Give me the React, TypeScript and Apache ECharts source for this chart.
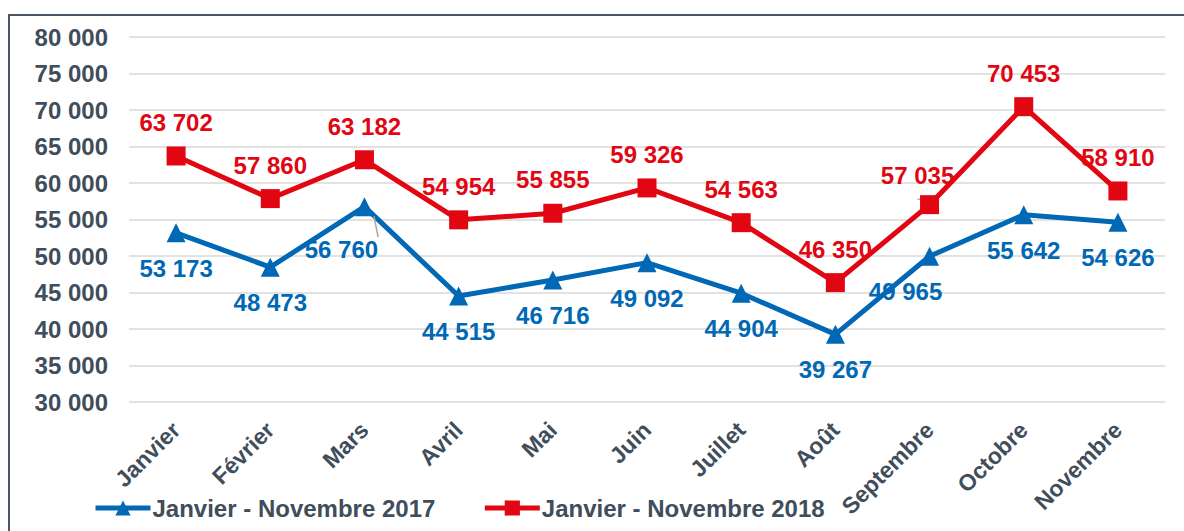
import React, { useEffect, useRef } from "react";
import * as echarts from "echarts";

const months = ["Janvier", "Février", "Mars", "Avril", "Mai", "Juin", "Juillet", "Août", "Septembre", "Octobre", "Novembre"];
const values2017 = [53173, 48473, 56760, 44515, 46716, 49092, 44904, 39267, 49965, 55642, 54626];
const values2018 = [63702, 57860, 63182, 54954, 55855, 59326, 54563, 46350, 57035, 70453, 58910];
const seriesNames = ["Janvier - Novembre 2017", "Janvier - Novembre 2018"];
const yMin = 30000;
const yMax = 80000;
const yStep = 5000;

// label displacement (style only) for a few crowded labels
const moved2017: Record<number, [number, number]> = { 2: [-23, 7], 8: [-24, 0] };
const moved2018: Record<number, [number, number]> = { 8: [-12, 4] };
const guided2017 = [2];
const guided2018 = [8];

const BLUE = "#0068B4";
const RED = "#E20613";
const TEXT = "#404D5B";
const FONT = "'Liberation Sans', Arial, sans-serif";

const fmt = (v: number) => String(v).replace(/\B(?=(\d{3})+(?!\d))/g, " ");

function buildData(values: number[], moved: Record<number, [number, number]>, guided: number[]) {
  return values.map((v, i) =>
    moved[i]
      ? {
          value: v,
          label: { offset: moved[i] },
          labelLine: { show: guided.includes(i), lineStyle: { color: "#A6A6A6", width: 1.5 } },
        }
      : v
  );
}

export default function App() {
  const ref = useRef<HTMLDivElement>(null);
  useEffect(() => {
    if (!ref.current) return;
    const chart = echarts.init(ref.current, undefined, { renderer: "svg" });
    chart.setOption({
      animation: false,
      backgroundColor: "#ffffff",
      textStyle: { fontFamily: FONT },
      graphic: [
        {
          type: "rect",
          shape: { x: 9, y: 15, width: 1300, height: 600 },
          style: { fill: "none", stroke: "#4A5563", lineWidth: 2 },
          silent: true,
          z: -1,
        },
      ],
      grid: { left: 129, right: 19, top: 37, bottom: 129, containLabel: false },
      legend: {
        left: 88,
        top: 491,
        itemWidth: 55,
        itemHeight: 19,
        itemGap: 47,
        lineStyle: { width: 5 },
        textStyle: { fontSize: 24, fontWeight: "bold", color: TEXT, fontFamily: FONT, padding: [0, 0, 0, -3] },
        data: seriesNames,
      },
      xAxis: {
        type: "category",
        data: months,
        boundaryGap: true,
        axisLine: { show: false },
        axisTick: { show: false },
        axisLabel: {
          rotate: 45,
          interval: 0,
          margin: 24,
          fontSize: 23,
          fontWeight: "bold",
          color: TEXT,
          fontFamily: FONT,
        },
      },
      yAxis: {
        type: "value",
        min: yMin,
        max: yMax,
        interval: yStep,
        axisLine: { show: false },
        axisTick: { show: false },
        splitLine: { lineStyle: { color: "#D9D9D9", width: 1.5 } },
        axisLabel: {
          margin: 21,
          fontSize: 24,
          fontWeight: "bold",
          color: TEXT,
          fontFamily: FONT,
          formatter: (v: number) => fmt(v),
        },
      },
      series: [
        {
          name: seriesNames[0],
          type: "line",
          data: buildData(values2017, moved2017, guided2017),
          symbol: "triangle",
          symbolSize: 19,
          itemStyle: { color: BLUE },
          lineStyle: { color: BLUE, width: 5 },
          label: {
            show: true,
            position: "bottom",
            distance: 14,
            fontSize: 24,
            fontWeight: "bold",
            color: BLUE,
            fontFamily: FONT,
            formatter: (p: any) => fmt(p.value),
          },
        },
        {
          name: seriesNames[1],
          type: "line",
          data: buildData(values2018, moved2018, guided2018),
          symbol: "rect",
          symbolSize: 19,
          itemStyle: { color: RED },
          lineStyle: { color: RED, width: 5 },
          label: {
            show: true,
            position: "top",
            distance: 12,
            fontSize: 24,
            fontWeight: "bold",
            color: RED,
            fontFamily: FONT,
            formatter: (p: any) => fmt(p.value),
          },
        },
      ],
    });
    return () => chart.dispose();
  }, []);
  return <div ref={ref} style={{ width: 1184, height: 531, position: "absolute", left: 0, top: 0 }} />;
}
